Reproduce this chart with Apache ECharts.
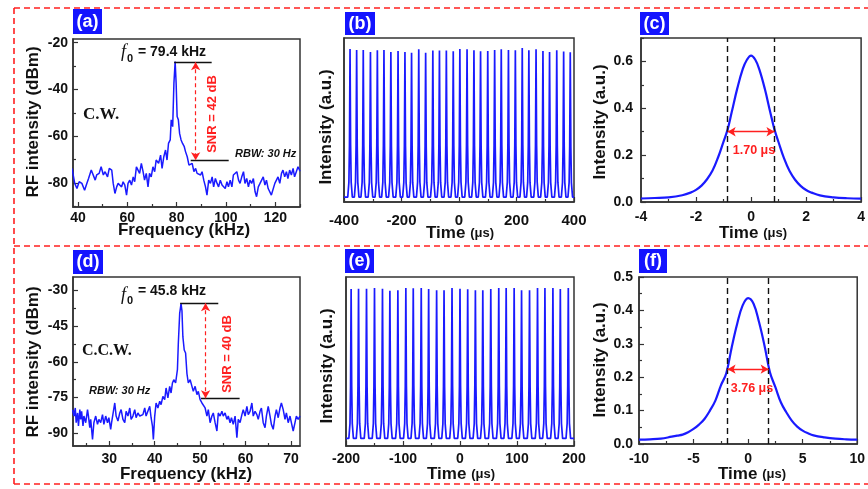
<!DOCTYPE html>
<html><head><meta charset="utf-8">
<script src="https://cdn.jsdelivr.net/npm/echarts@6/dist/echarts.min.js"></script>
<style>html,body{margin:0;padding:0;background:#fff}#c{width:868px;height:489px}</style>
</head><body><div id="c"></div>
<script>
// ---------------- data ----------------
// (a) RF spectrum, C.W.
const freqA = [37.6,38.7,39.6,40.5,41.6,42.7,43.6,44.3,45.4,46.0,
  47.0,47.6,48.6,49.4,50.3,51.0,52.0,52.7,53.7,54.3,
  55.0,55.7,56.3,57.0,57.7,58.3,59.0,59.7,60.3,61.0,
  61.7,62.4,63.0,63.7,64.4,65.0,65.7,66.4,67.0,67.7,
  68.4,69.0,69.7,70.4,71.1,71.7,72.7,73.5,74.1,74.8,
  75.5,76.1,76.7,77.4,77.8,78.4,78.9,79.4,79.8,80.2,
  80.7,81.2,81.8,82.4,83.1,83.6,84.3,85.0,85.6,86.3,
  87.0,87.7,88.3,89.0,89.7,90.3,91.0,91.7,92.3,93.0,
  93.7,94.4,95.0,95.7,96.4,97.0,97.7,98.4,99.0,99.7,
  100.4,101.0,101.7,102.4,103.0,103.7,104.4,105.1,105.7,106.4,
  107.1,107.7,108.4,109.1,109.7,110.4,111.1,111.8,112.4,113.1,
  113.8,114.4,115.1,115.8,116.4,117.1,117.8,118.4,119.1,119.8,
  120.5,121.1,121.8,122.5,123.1,123.8,124.5,125.1,125.8,126.5,
  127.2,127.8,128.5,129.2,130];
const rfA = [-73.8,-80.2,-82.4,-79.5,-80.2,-83.1,-80.2,-78.1,-74.5,-73.8,
  -78.8,-76.6,-75.9,-73.1,-76.6,-75.2,-77.4,-73.8,-74.5,-80.2,
  -84.5,-81.7,-80.2,-80.9,-81.7,-79.5,-80.9,-85.2,-80.2,-78.8,
  -80.9,-77.4,-79.5,-73.1,-72.4,-75.9,-71.6,-75.2,-78.8,-75.9,
  -81.7,-75.9,-77.4,-73.1,-75.2,-70.2,-71.6,-68.1,-73.8,-68.8,
  -65.9,-70.2,-63.1,-61.6,-53.0,-55.9,-37.3,-28.0,-37.3,-51.6,
  -53.0,-58.8,-61.6,-63.1,-64.5,-66.6,-68.8,-72.4,-73.1,-71.6,
  -75.2,-73.8,-75.9,-75.2,-76.6,-75.2,-78.8,-81.7,-85.2,-78.8,
  -80.2,-77.4,-81.7,-78.1,-80.2,-81.7,-78.8,-80.9,-80.2,-82.4,
  -79.5,-81.7,-78.8,-81.7,-76.6,-77.4,-75.2,-78.8,-80.2,-77.4,
  -75.2,-80.2,-78.1,-81.7,-78.8,-80.2,-78.1,-83.8,-85.9,-81.7,
  -80.2,-79.5,-77.4,-80.9,-78.8,-82.4,-81.7,-85.2,-85.9,-80.2,
  -79.5,-77.4,-80.2,-75.9,-74.5,-77.4,-75.2,-78.1,-74.5,-76.6,
  -73.8,-77.4,-75.2,-73.1,-75];

// (d) RF spectrum, C.C.W.
const freqD = [21.9,22.2,22.5,22.7,23.0,23.2,23.5,23.7,23.9,24.2,
  24.4,24.8,25.2,25.4,25.7,25.9,26.3,26.6,27.0,27.4,
  27.7,28.1,28.5,28.8,29.2,29.6,29.9,30.3,30.5,30.8,
  31.2,31.5,31.9,32.3,32.6,33.0,33.4,33.7,34.1,34.5,
  34.8,35.2,35.6,35.9,36.3,36.7,37.0,37.4,37.8,38.1,
  38.5,38.9,39.2,39.5,39.7,40.0,40.3,40.7,41.1,41.4,
  41.8,42.2,42.5,42.9,43.3,43.6,43.9,44.2,44.6,45.0,
  45.2,45.5,45.8,46.0,46.2,46.5,46.8,47.1,47.4,47.8,
  48.2,48.5,48.9,49.3,49.6,50.0,50.4,50.7,51.1,51.5,
  51.8,52.2,52.6,52.9,53.3,53.7,54.0,54.4,54.8,55.1,
  55.5,55.9,56.2,56.6,56.9,57.3,57.7,58.1,58.4,58.8,
  59.2,59.5,59.9,60.3,60.6,61.0,61.4,61.7,62.1,62.5,
  62.8,63.2,63.5,63.9,64.3,64.6,65.0,65.4,65.7,66.1,
  66.5,66.8,67.2,67.6,67.9,68.3,68.7,69.0,69.4,69.8,
  70.1,70.5,70.9,71.2,71.6,72.0];
const rfD = [-80.1,-82.8,-79.4,-85.6,-81.5,-87.0,-80.1,-84.2,-80.8,-87.0,
  -82.8,-85.6,-80.1,-82.8,-87.7,-84.2,-92.6,-85.6,-82.8,-86.3,
  -84.2,-85.6,-82.2,-86.3,-82.8,-85.6,-83.5,-88.4,-85.6,-86.3,
  -77.3,-82.8,-84.9,-81.5,-80.1,-84.2,-85.6,-80.8,-82.8,-79.4,
  -84.2,-82.8,-80.1,-83.5,-81.5,-82.8,-83.5,-82.2,-79.4,-82.8,
  -82.2,-78.7,-83.5,-87.0,-92.6,-82.8,-77.3,-79.4,-76.6,-78.0,
  -74.5,-75.9,-71.0,-75.2,-70.3,-73.1,-68.9,-67.5,-68.9,-63.3,
  -52.2,-39.6,-35.5,-38.5,-49.4,-55.0,-56.3,-65.0,-68.9,-67.5,
  -70.3,-72.4,-70.3,-73.8,-72.4,-75.9,-77.3,-76.6,-79.4,-82.8,
  -80.1,-85.6,-82.8,-81.5,-85.6,-89.1,-81.5,-82.8,-80.8,-82.8,
  -81.5,-84.2,-82.8,-85.6,-83.5,-86.3,-82.8,-91.9,-84.2,-85.6,
  -82.2,-80.1,-82.8,-78.7,-82.2,-80.8,-77.3,-82.8,-80.8,-82.2,
  -84.2,-80.8,-79.4,-85.6,-87.7,-82.8,-78.7,-82.8,-86.3,-88.4,
  -82.8,-80.1,-83.5,-79.4,-77.3,-80.1,-84.2,-81.5,-85.6,-82.8,
  -85.6,-89.1,-85.6,-82.8,-84.2,-82.8];

// (b) pulse train, C.W. (peak times in µs, peak heights in a.u.)
const pulseTimesB = [-379,-356,-333,-308,-284,-261,-237,-212,-188,-165,-140,-116,-91,-68,-44,-20,3,28,52,75,100,124,147,172,196,220,243,268,292,315,340,364,387];
const pulsePeaksB = [0.933,0.927,0.927,0.915,0.925,0.927,0.915,0.921,0.915,0.910,0.931,0.910,0.923,0.923,0.923,0.919,0.933,0.931,0.925,0.919,0.921,0.927,0.931,0.927,0.925,0.939,0.925,0.931,0.921,0.915,0.925,0.917,0.913];
const baselineB = 0.03;
// (e) pulse train, C.C.W.
const pulseTimesE = [-191,-178,-164,-150,-136,-123,-109,-95,-82,-68,-55,-41,-28,-14,0,13.5,27,40,54,68,81,95,108,122,136,149,163,176,190];
const pulsePeaksE = [0.929,0.931,0.931,0.935,0.931,0.919,0.921,0.935,0.933,0.935,0.929,0.921,0.921,0.935,0.931,0.927,0.921,0.921,0.929,0.935,0.935,0.935,0.921,0.921,0.935,0.935,0.935,0.929,0.935];
const baselineE = 0.045;
// single-pulse outline used for every pulse of the train (offset µs, relative height)
const pulseOffsetsB = [-8,-4,-2,0,2,4,8];
const pulseOffsetsE = [-4,-2,-1,0,1,2,4];
const pulseRelShape = [0,0.1,0.35,1,0.35,0.1,0];

// (c) single pulse, C.W.
const timeC = [-4,-3.5,-3,-2.5,-2.2,-2,-1.8,-1.6,-1.4,-1.2,-1,-0.85,-0.7,-0.5,-0.3,-0.15,0,0.15,0.3,0.5,0.7,0.85,1,1.2,1.4,1.6,1.8,2,2.2,2.5,3,3.5,4];
const intensityC = [0.015,0.017,0.02,0.029,0.04,0.052,0.07,0.097,0.134,0.19,0.258,0.31,0.385,0.485,0.568,0.607,0.625,0.608,0.566,0.483,0.382,0.31,0.255,0.186,0.132,0.095,0.069,0.051,0.04,0.028,0.02,0.016,0.014];
// (f) single pulse, C.C.W.
const timeF = [-10,-9,-8,-7,-6.5,-6,-5.5,-5,-4.5,-4,-3.5,-3,-2.5,-2,-1.5,-1,-0.5,0,0.5,1,1.5,2,2.5,3,3.5,4,4.5,5,5.5,6,7,8,9,10];
const intensityF = [0.013,0.014,0.016,0.022,0.025,0.028,0.035,0.045,0.058,0.075,0.10,0.13,0.175,0.212,0.29,0.36,0.415,0.437,0.42,0.365,0.295,0.215,0.17,0.125,0.095,0.07,0.052,0.04,0.032,0.026,0.02,0.016,0.014,0.013];

// annotation values
const snrA = {peak:-28.3, floor:-70.3, peakFrom:79.0, peakTo:94.2, floorFrom:85.7, floorTo:101.1, arrowX:87.7};
const snrD = {peak:-35.3, floor:-75.3, peakFrom:45.6, peakTo:54.0, floorFrom:50.2, floorTo:58.7, arrowX:51.2};
const fwhmC = {half:0.85, level:0.30};
const fwhmF = {half:1.88, level:0.224};

// tick values
const xTicksA = [40,60,80,100,120], xMinorA = [50,70,90,110,130];
const yTicksA = [-20,-40,-60,-80], yMinorA = [-30,-50,-70,-90];
const xTicksB = [-400,-200,0,200,400], xMinorB = [-300,-100,100,300];
const xTicksC = [-4,-2,0,2,4], xMinorC = [-3,-1,1,3];
const yTicksC = [0,0.2,0.4,0.6], yMinorC = [0.1,0.3,0.5,0.7];
const xTicksD = [30,40,50,60,70], xMinorD = [25,35,45,55,65];
const yTicksD = [-30,-45,-60,-75,-90], yMinorD = [-37.5,-52.5,-67.5,-82.5];
const xTicksE = [-200,-100,0,100,200], xMinorE = [-150,-50,50,150];
const xTicksF = [-10,-5,0,5,10], xMinorF = [-7.5,-2.5,2.5,7.5];
const yTicksF = [0,0.1,0.2,0.3,0.4,0.5], yMinorF = [0.05,0.15,0.25,0.35,0.45];

// ---------------- chart ----------------
const FONT = '"Liberation Sans", Arial, sans-serif';
const SERIF = '"Liberation Serif", "Times New Roman", serif';
const BLUE = '#1a1aff';
const RED = '#ff2020';
const AX = '#333';

function zip(a, b) { return a.map((v, i) => [v, b[i]]); }
function pulseTrain(times, peaks, base, offsets, xmin, xmax) {
  const d = [[xmin, base]];
  times.forEach((t, k) => offsets.forEach((o, j) => d.push([t + o, base + pulseRelShape[j] * (peaks[k] - base)])));
  d.push([xmax, base]);
  return d;
}

const panels = [
  {g:[73,39,227,168], x:[38,130], y:[-90.3,-18.4], xt:xTicksA, xm:xMinorA, yt:yTicksA, ym:yMinorA, xMargin:4, yMargin:5, fs:14},
  {g:[344,38,230,164], x:[-400,400], y:[0,1], xt:xTicksB, xm:xMinorB, yt:null, xMargin:11, fs:15},
  {g:[641,38,225,164], x:[-4,4], y:[0,0.7], xt:xTicksC, xm:xMinorC, yt:yTicksC, ym:yMinorC, xMargin:8, yMargin:8, fs:14, dec:true},
  {g:[73,277,227,169], x:[22,72], y:[-95.4,-24.3], xt:xTicksD, xm:xMinorD, yt:yTicksD, ym:yMinorD, xMargin:6, yMargin:5, fs:14},
  {g:[346,277,228,169], x:[-200,200], y:[0,1], xt:xTicksE, xm:xMinorE, yt:null, xMargin:6, fs:14},
  {g:[639,277,227,167], x:[-10,10], y:[0,0.5], xt:xTicksF, xm:xMinorF, yt:yTicksF, ym:yMinorF, xMargin:8, yMargin:6, fs:14, dec:true}
];

const grids = [], xAxes = [], yAxes = [];
const hiddenLine = {show:false, onZero:false};
panels.forEach((p, i) => {
  grids.push({left:p.g[0], top:p.g[1], width:p.g[2], height:p.g[3], show:true, borderColor:AX, borderWidth:1.5, backgroundColor:'transparent', containLabel:false});
  const lblStyle = {fontSize:p.fs, fontWeight:'bold', fontFamily:FONT, color:'#111'};
  xAxes.push({type:'value', gridIndex:i, position:'bottom', min:p.x[0], max:p.x[1],
    axisLine:{show:true, onZero:false, lineStyle:{color:AX, width:1.5}},
    axisTick:{show:true, inside:true, length:5, customValues:p.xt, lineStyle:{color:AX, width:1.2}},
    axisLabel:Object.assign({show:true, customValues:p.xt, margin:p.xMargin, hideOverlap:false}, lblStyle),
    splitLine:{show:false}});
  xAxes.push({type:'value', gridIndex:i, position:'bottom', min:p.x[0], max:p.x[1],
    axisLine:hiddenLine, axisLabel:{show:false}, splitLine:{show:false},
    axisTick:{show:true, inside:true, length:3, customValues:p.xm, lineStyle:{color:AX, width:1.2}}});
  if (p.yt) {
    yAxes.push({type:'value', gridIndex:i, position:'left', min:p.y[0], max:p.y[1],
      axisLine:{show:true, onZero:false, lineStyle:{color:AX, width:1.5}},
      axisTick:{show:true, inside:true, length:5, customValues:p.yt, lineStyle:{color:AX, width:1.2}},
      axisLabel:Object.assign({show:true, customValues:p.yt, margin:p.yMargin, hideOverlap:false,
        formatter: p.dec ? (v => Number(v).toFixed(1)) : (v => String(v))}, lblStyle),
      splitLine:{show:false}});
    yAxes.push({type:'value', gridIndex:i, position:'left', min:p.y[0], max:p.y[1],
      axisLine:hiddenLine, axisLabel:{show:false}, splitLine:{show:false},
      axisTick:{show:true, inside:true, length:3, customValues:p.ym, lineStyle:{color:AX, width:1.2}}});
  } else {
    yAxes.push({type:'value', gridIndex:i, position:'left', min:p.y[0], max:p.y[1],
      axisLine:{show:true, onZero:false, lineStyle:{color:AX, width:1.5}},
      axisTick:{show:false}, axisLabel:{show:false}, splitLine:{show:false}});
    yAxes.push({type:'value', gridIndex:i, position:'left', min:p.y[0], max:p.y[1], show:false, axisLine:hiddenLine});
  }
});

function lineSeries(i, data, smooth, width) {
  return {type:'line', xAxisIndex:2*i, yAxisIndex:2*i, data:data, symbol:'none', showSymbol:false,
    smooth:smooth || false, lineStyle:{color:BLUE, width:width || 1.5}, animation:false, clip:true, z:3};
}
const pt = (x, y, sym) => ({coord:[x, y], symbol:sym || 'none', symbolSize:[7, 8]});
function snrMarks(s) {
  return {silent:true, animation:false, label:{show:false}, symbol:'none', data:[
    [Object.assign(pt(s.peakFrom, s.peak), {lineStyle:{color:'#111', width:1.4, type:'solid'}}), pt(s.peakTo, s.peak)],
    [Object.assign(pt(s.floorFrom, s.floor), {lineStyle:{color:'#111', width:1.4, type:'solid'}}), pt(s.floorTo, s.floor)],
    [Object.assign(pt(s.arrowX, s.peak, 'arrow'), {lineStyle:{color:RED, width:1.2, type:[4,3]}}), pt(s.arrowX, s.floor, 'arrow')]
  ]};
}
function fwhmMarks(f) {
  return {silent:true, animation:false, label:{show:false}, symbol:'none', data:[
    {xAxis:-f.half, symbol:'none', lineStyle:{color:'#111', width:1.4, type:[6,4]}},
    {xAxis:f.half, symbol:'none', lineStyle:{color:'#111', width:1.4, type:[6,4]}},
    [Object.assign(pt(-f.half, f.level, 'arrow'), {lineStyle:{color:RED, width:1.4, type:'solid'}}), pt(f.half, f.level, 'arrow')]
  ]};
}

const sA = lineSeries(0, zip(freqA, rfA)); sA.markLine = snrMarks(snrA);
const sB = lineSeries(1, pulseTrain(pulseTimesB, pulsePeaksB, baselineB, pulseOffsetsB, -400, 400), false, 1.7);
const sC = lineSeries(2, zip(timeC, intensityC), 0.4, 2.2); sC.markLine = fwhmMarks(fwhmC);
const sD = lineSeries(3, zip(freqD, rfD)); sD.markLine = snrMarks(snrD);
const sE = lineSeries(4, pulseTrain(pulseTimesE, pulsePeaksE, baselineE, pulseOffsetsE, -200, 200), false, 1.7);
const sF = lineSeries(5, zip(timeF, intensityF), 0.4, 2.2); sF.markLine = fwhmMarks(fwhmF);

// ---------- graphic (frames, panel tags, titles, notes) ----------
const G = [];
function txt(x, y, text, font, fill, opts) {
  const o = {type:'text', x:x, y:y, z:50, silent:true,
    style:Object.assign({text:text, font:font, fill:fill || '#111', align:'center', verticalAlign:'middle',
      textAlign:'center', textVerticalAlign:'middle'}, (opts && opts.style) || {})};
  if (opts && opts.rotation) o.rotation = opts.rotation;
  G.push(o);
}
function dashLine(x1, y1, x2, y2) {
  G.push({type:'line', z:1, silent:true, shape:{x1, y1, x2, y2}, style:{stroke:RED, lineWidth:1.6, lineDash:[6,4]}});
}
dashLine(14, 8, 868, 8); dashLine(14, 246, 868, 246); dashLine(14, 484, 868, 484); dashLine(14, 8, 14, 484);

function tag(x, y, w, h, t) {
  G.push({type:'rect', z:40, silent:true, shape:{x, y, width:w, height:h}, style:{fill:'#1414ff'}});
  txt(x + w / 2, y + h / 2 + 0.5, t, 'bold 18px ' + FONT, '#fff');
}
tag(73, 9, 29, 25, '(a)'); tag(345, 12, 30, 23, '(b)'); tag(640, 12, 29, 23, '(c)');
tag(73, 250, 30, 24, '(d)'); tag(345, 249, 29, 24, '(e)'); tag(639, 249, 28, 24, '(f)');

const TF = 'bold 17px ' + FONT;
const timeTitle = {rich:{t:{font:'bold 17px ' + FONT, fill:'#111'}, u:{font:'bold 13px ' + FONT, fill:'#111'}}};
txt(184, 230, 'Frequency (kHz)', TF);
txt(460, 233, '{t|Time} {u|(μs)}', TF, '#111', {style:timeTitle});
txt(753, 233, '{t|Time} {u|(μs)}', TF, '#111', {style:timeTitle});
txt(186, 474, 'Frequency (kHz)', TF);
txt(461, 474, '{t|Time} {u|(μs)}', TF, '#111', {style:timeTitle});
txt(752, 474, '{t|Time} {u|(μs)}', TF, '#111', {style:timeTitle});
const R90 = Math.PI / 2;
txt(33, 122, 'RF intensity (dBm)', TF, '#111', {rotation:R90});
txt(326, 127, 'Intensity (a.u.)', TF, '#111', {rotation:R90});
txt(600, 122, 'Intensity (a.u.)', TF, '#111', {rotation:R90});
txt(33, 362, 'RF intensity (dBm)', TF, '#111', {rotation:R90});
txt(327, 366, 'Intensity (a.u.)', TF, '#111', {rotation:R90});
txt(600, 360, 'Intensity (a.u.)', TF, '#111', {rotation:R90});

// panel notes
const left = {style:{align:'left', textAlign:'left'}};
txt(123.5, 52, 'f', 'italic 18px ' + SERIF);
txt(130, 59, '0', 'bold 11px ' + FONT);
txt(138, 52, '= 79.4 kHz', 'bold 14px ' + FONT, '#111', left);
txt(123.5, 295, 'f', 'italic 18px ' + SERIF);
txt(130, 301, '0', 'bold 11px ' + FONT);
txt(138, 291, '= 45.8 kHz', 'bold 14px ' + FONT, '#111', left);
txt(83, 115, 'C.W.', 'bold 17px ' + SERIF, '#111', left);
txt(82, 351, 'C.C.W.', 'bold 16px ' + SERIF, '#111', left);
txt(235, 154, 'RBW: 30 Hz', 'italic bold 11px ' + FONT, '#111', left);
txt(89, 391, 'RBW: 30 Hz', 'italic bold 11px ' + FONT, '#111', left);
txt(212, 114, 'SNR = 42 dB', 'bold 13px ' + FONT, RED, {rotation:R90});
txt(227, 354, 'SNR = 40 dB', 'bold 13px ' + FONT, RED, {rotation:R90});
txt(754, 151, '1.70 μs', 'bold 12.5px ' + FONT, RED);
txt(752, 389, '3.76 μs', 'bold 12.5px ' + FONT, RED);

const chart = echarts.init(document.getElementById('c'), null, {renderer:'canvas', width:868, height:489});
chart.setOption({
  animation:false,
  backgroundColor:'#fff',
  grid:grids, xAxis:xAxes, yAxis:yAxes,
  series:[sA, sB, sC, sD, sE, sF],
  graphic:G
});
</script>
</body></html>
